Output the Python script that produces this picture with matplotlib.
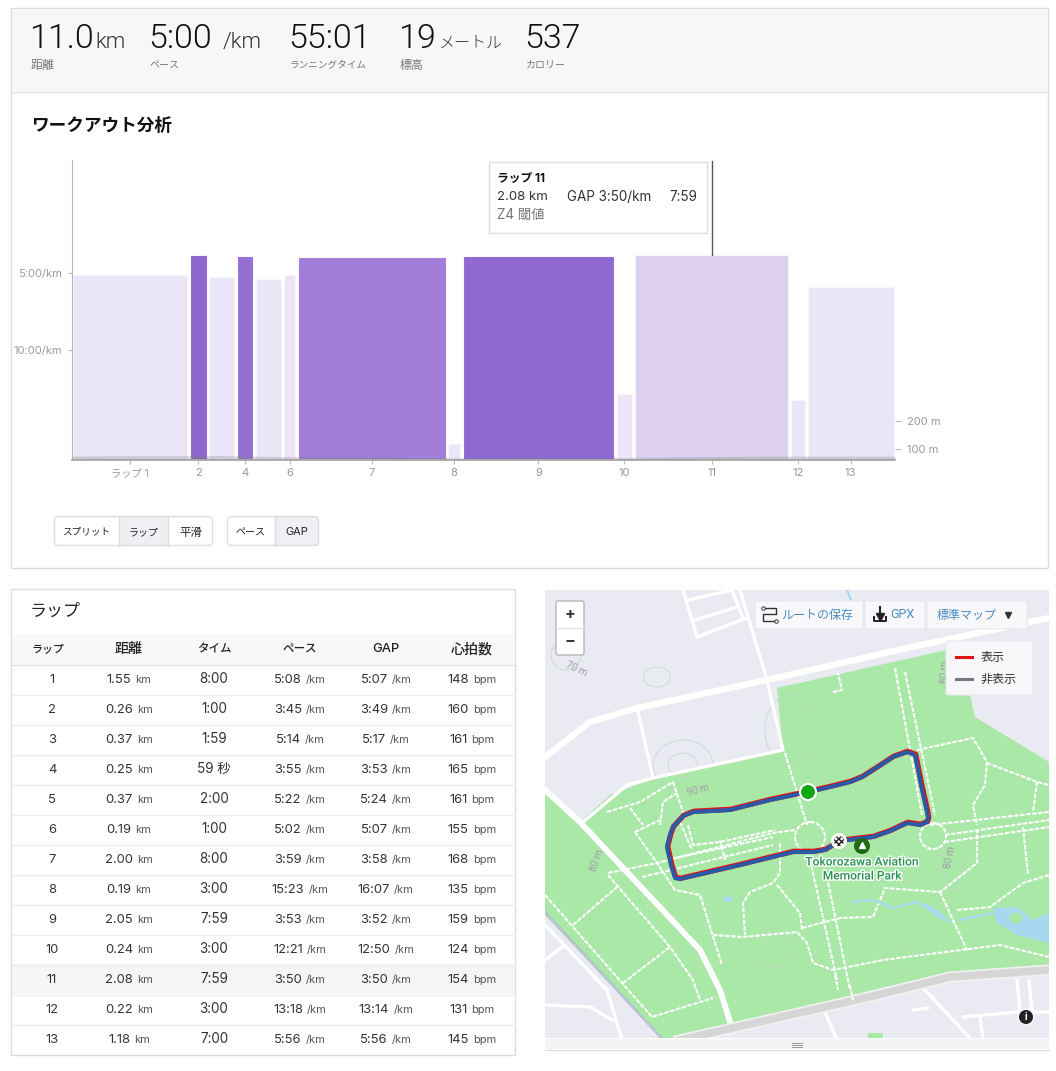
import matplotlib
matplotlib.use('Agg')
import matplotlib.pyplot as plt
from matplotlib.patches import Rectangle, FancyBboxPatch, Circle, Ellipse, Polygon
import matplotlib.patheffects as pe

W, H = 1056, 1071
LATIN = ['Inter', 'Noto Sans CJK JP', 'DejaVu Sans']
LIGHT = ['Roboto', 'Noto Sans CJK JP', 'DejaVu Sans']
CJK = ['Noto Sans CJK JP', 'DejaVu Sans']

# ---------- data ----------
laps = ['1', '2', '3', '4', '5', '6', '7', '8', '9', '10', '11', '12', '13']
dist = ['1.55', '0.26', '0.37', '0.25', '0.37', '0.19', '2.00', '0.19', '2.05', '0.24', '2.08', '0.22', '1.18']
times = ['8:00', '1:00', '1:59', '59 秒', '2:00', '1:00', '8:00', '3:00', '7:59', '3:00', '7:59', '3:00', '7:00']
pace = ['5:08', '3:45', '5:14', '3:55', '5:22', '5:02', '3:59', '15:23', '3:53', '12:21', '3:50', '13:18', '5:56']
gap = ['5:07', '3:49', '5:17', '3:53', '5:24', '5:07', '3:58', '16:07', '3:52', '12:50', '3:50', '13:14', '5:56']
hr = ['148', '160', '161', '165', '161', '155', '168', '135', '159', '124', '154', '131', '145']
bar_colors = ['#ebe5f8', '#8e66cc', '#ebe5f8', '#9470d2', '#ebe5f8', '#ebe5f8', '#a17cd9',
              '#ebe5f8', '#8f69d0', '#ebe5f8', '#dcd0ee', '#ebe5f8', '#ebe5f8']
x_labels = ['ラップ 1', '2', '', '4', '', '6', '7', '8', '9', '10', '11', '12', '13']
elev_km = [0, 1.0, 2.0, 2.6, 3.0, 4.0, 4.6, 5.2, 6.0, 7.0, 8.0, 9.0, 9.6, 10.95]
elev_m = [75, 76, 77, 74, 72, 74, 68, 68, 70, 68, 72, 74, 75, 75]

stat_values = ['11.0', '5:00', '55:01', '19', '537']
stat_units = ['km', '/km', '', 'メートル', '']
stat_labels = ['距離', 'ペース', 'ランニングタイム', '標高', 'カロリー']
columns = ['ラップ', '距離', 'タイム', 'ペース', 'GAP', '心拍数']

stat_x = [29, 148, 288, 398, 524]
stat_unit_x = [95, 223, 0, 438, 0]
stat_label_px = [12, 10, 9.6, 12, 10]
column_x = [48, 129, 214, 300, 386, 472]
column_px = [11, 14, 11.5, 11.5, 13, 14]

# map geometry (pixel positions of the screenshot)
park_n = [(777, 688), (893, 662), (947, 650), (970, 695), (975, 717), (1049, 762), (1049, 966), (950, 972),
          (873, 990), (731, 1025), (720, 990), (700, 950), (580, 822), (610, 795), (650, 780), (783, 750)]
park_w = [(545, 790), (580, 822), (700, 950), (720, 990), (731, 1025), (663, 1040), (545, 915)]
main_road = [(545, 757), (590, 722), (637, 708), (767, 680), (907, 648), (1049, 618)]
diag_road = [(545, 790), (580, 822), (700, 950), (720, 990), (731, 1025)]
bottom_road = [(680, 1040), (873, 996), (950, 977), (1049, 970)]
rail = [(545, 912), (663, 1040)]
side_roads = [[(740, 590), (767, 680), (783, 750), (653, 778), (627, 785), (583, 822)],
              [(638, 712), (653, 778)],
              [(683, 590), (697, 637), (747, 618)], [(695, 620), (737, 607)], [(688, 600), (732, 590)],
              [(732, 590), (743, 618)],
              [(923, 988), (970, 1038)], [(913, 1010), (928, 1008)], [(963, 1017), (1017, 1012), (1049, 1012)],
              [(980, 1017), (983, 1038)], [(1017, 980), (1020, 1012)], [(1029, 980), (1032, 1012)],
              [(825, 1012), (837, 1040)], [(545, 925), (607, 990), (622, 1040)],
              [(545, 1005), (590, 1007), (612, 1020)], [(545, 960), (565, 945)]]
footpaths = [[(895, 668), (922, 815)], [(905, 672), (935, 815)], [(833, 692), (842, 690), (838, 673)],
             [(785, 753), (807, 825)], [(917, 750), (973, 738), (987, 762), (985, 785), (973, 805), (977, 825)],
             [(987, 763), (1037, 782), (1049, 785)], [(1037, 782), (1033, 812)], [(930, 825), (1049, 812)],
             [(607, 812), (640, 802), (673, 782)], [(673, 782), (685, 818)], [(660, 825), (663, 802), (677, 793)],
             [(630, 808), (643, 825)], [(635, 832), (660, 820)],
             [(635, 832), (657, 863), (675, 890), (700, 895), (722, 965)],
             [(608, 873), (657, 863), (773, 833), (795, 830)], [(642, 877), (773, 845)], [(675, 858), (773, 837)],
             [(608, 875), (670, 947), (693, 980), (700, 1000)], [(545, 895), (652, 1017), (713, 998)],
             [(573, 925), (617, 887)], [(623, 983), (670, 947)],
             [(780, 843), (780, 873), (773, 883), (750, 892), (743, 903), (745, 935)],
             [(777, 885), (800, 913), (802, 930)],
             [(713, 935), (743, 937), (797, 932), (807, 943), (813, 963), (833, 970), (883, 960), (1000, 945), (1049, 957)],
             [(802, 928), (840, 918), (873, 917), (885, 888), (940, 892), (977, 863), (977, 830)],
             [(940, 892), (967, 950)], [(957, 910), (990, 907), (1023, 883), (1049, 875)],
             [(810, 860), (837, 980)], [(827, 877), (850, 990)], [(945, 835), (1049, 820)], [(945, 842), (1049, 827)],
             [(1023, 827), (1028, 875)], [(835, 975), (838, 990)], [(850, 985), (853, 1000)],
             [(688, 825), (693, 845), (720, 842), (775, 830)], [(680, 822), (692, 850)], [(720, 840), (725, 860)]]
path_circles = [(810, 837, 15), (933, 836, 13)]
streams = [[(853, 902), (873, 900), (893, 908), (917, 902), (950, 922)], [(960, 920), (993, 913)], [(847, 590), (851, 600)]]
lake = [(993, 908), (1017, 907), (1033, 920), (1049, 913), (1049, 943), (1017, 935), (997, 923)]
route = [(808, 792), (830, 787), (850, 782), (862, 777), (873, 770), (893, 757), (907, 752), (915, 755), (921, 785),
         (927, 812), (928, 818), (927, 822), (920, 825), (907, 823), (890, 831), (873, 837), (840, 841), (825, 850),
         (813, 852), (793, 852), (740, 865), (680, 879), (675, 878), (671, 865), (667, 847), (670, 835), (673, 827),
         (683, 816), (693, 812), (730, 810), (770, 800), (808, 792)]

# ---------- helpers ----------
def minutes(s):
    m, sec = s.split(':')
    return int(m) + int(sec) / 60

fig = plt.figure(figsize=(W / 100, H / 100), dpi=100, facecolor='white')

def px_axes(x0, y0, x1, y1, z):
    a = fig.add_axes([x0 / W, 1 - y1 / H, (x1 - x0) / W, (y1 - y0) / H], zorder=z)
    a.set_xlim(x0, x1)
    a.set_ylim(y1, y0)
    a.axis('off')
    return a

bg = px_axes(0, 0, W, H, 0)
top = px_axes(0, 0, W, H, 5)
top.patch.set_alpha(0)

def T(ax, x, y, s, px, color='#222222', ha='left', va='center', fam=LATIN, **kw):
    return ax.text(x, y, s, fontsize=px * 0.72, color=color, ha=ha, va=va, family=fam, **kw)

def rich(ax, cx, y, value, unit, vpx=13, upx=11, vc='#333333', uc='#555555'):
    a = T(ax, cx, y, value, vpx, vc, va='baseline')
    b = T(ax, cx, y, unit, upx, uc, va='baseline')
    r = fig.canvas.get_renderer()
    wa, wb = a.get_window_extent(r).width, b.get_window_extent(r).width
    left = cx - (wa + wb + 4) / 2
    a.set_x(left)
    b.set_x(left + wa + 4)

# ---------- cards ----------
bg.add_patch(Rectangle((11, 8), 1036.5, 560, fc='white', ec='#dddddd', lw=1))
bg.add_patch(Rectangle((12, 9), 1035, 82, fc='#f7f7fa', ec='none'))
bg.plot([12, 1047], [91.5, 91.5], color='#e0e0e0', lw=1)
for i, big in enumerate(stat_values):
    T(bg, stat_x[i], 48, big, 34, '#111111', va='baseline', fam=LIGHT, weight=300)
    if stat_units[i]:
        upx = 16 if stat_units[i] == 'メートル' else 22
        T(bg, stat_unit_x[i], 48, stat_units[i], upx, '#333333', va='baseline', fam=LIGHT, weight=300)
    T(bg, stat_x[i] + 2, 65, stat_labels[i], stat_label_px[i], '#777777', fam=CJK)
T(bg, 31, 126, 'ワークアウト分析', 17.6, '#111111', fam=CJK, weight='bold')

# ---------- chart ----------
XL, XR, YT, YB = 72, 895, 160, 460
ax = fig.add_axes([XL / W, 1 - YB / H, (XR - XL) / W, (YB - YT) / H], zorder=2)
ax.patch.set_alpha(0)
d = [float(v) for v in dist]
g = [minutes(v) for v in gap]
total = sum(d)
ax.set_xlim(0, total)
ax.set_ylim(17.14, -2.34)
start, centers = 0.0, []
for di, gi, c in zip(d, g, bar_colors):
    ax.bar(start + 0.018, 17.14 - gi, width=di - 0.036, bottom=gi, align='edge', color=c, edgecolor='#f8f5fc', lw=0.8)
    centers.append(start + di / 2)
    start += di
for s in ('top', 'right'):
    ax.spines[s].set_visible(False)
ax.spines['left'].set_color('#b5b5b5')
ax.spines['bottom'].set_color('#b5b5b5')
ax.spines['bottom'].set_linewidth(1.4)
ax.set_yticks([5, 10], ['5:00/km', '10:00/km'])
ax.set_xticks(centers, x_labels)
for i, lab in enumerate(x_labels):
    if not lab:
        ax.xaxis.get_major_ticks()[i].tick1line.set_visible(False)
ax.tick_params(axis='y', length=3, color='#bbbbbb', labelcolor='#999999', labelsize=8, pad=4)
ax.tick_params(axis='x', length=3, color='#bbbbbb', labelcolor='#999999', labelsize=8.2, pad=3)
for l in ax.get_xticklabels() + ax.get_yticklabels():
    l.set_family(LATIN)
ax.get_xticklabels()[0].set_fontsize(7.4)

ax2 = ax.twinx()
ax2.set_ylim(60.7, 1132)
ax2.fill_between(elev_km, 60.7, elev_m, color='#808080', alpha=0.28, lw=0)
for s in ('top', 'left', 'bottom', 'right'):
    ax2.spines[s].set_visible(False)
ax2.set_yticks([100, 200], ['100 m', '200 m'])
ax2.tick_params(axis='y', length=4.3, color='#bbbbbb', labelcolor='#999999', labelsize=8, pad=4)
for l in ax2.get_yticklabels():
    l.set_family(LATIN)

# tooltip and cursor
top.plot([712, 712], [161, 255], color='#555555', lw=1)
top.add_patch(Rectangle((488.5, 161.5), 218, 71, fc='white', ec='#dddddd', lw=1))
T(top, 497, 179, 'ラップ 11', 11.8, '#111111', weight='bold')
T(top, 497, 197, '2.08 km', 13.2, '#333333')
T(top, 567, 197, 'GAP 3:50/km', 13.5, '#333333')
T(top, 669, 197, '7:59', 13.5, '#333333')
T(top, 497, 215, 'Z4 閾値', 13.5, '#777777')

# segmented buttons
button_sets = [(54, 213, [(54, 119, 'スプリット', False, 9.6), (119, 168, 'ラップ', True, 10), (168, 213, '平滑', False, 11.5)]),
               (227, 319, [(227, 275, 'ペース', False, 10), (275, 319, 'GAP', True, 11)])]
for x0, x1, cells in button_sets:
    for xs, xe, lab, act, bpx in cells:
        if act:
            bg.add_patch(Rectangle((xs, 517), xe - xs, 29, fc='#f0f0f4', ec='none'))
        T(bg, (xs + xe) / 2, 532, lab, bpx, '#222222', ha='center', fam=CJK if lab != 'GAP' else LATIN)
        if xe != x1:
            bg.plot([xe, xe], [517, 546], color='#dddddd', lw=1)
    bg.add_patch(FancyBboxPatch((x0 + 0.5, 516.5), x1 - x0 - 1, 29,
                                boxstyle='round,pad=0,rounding_size=4', fc='none', ec='#dddddd', lw=1))

# ---------- table ----------
bg.add_patch(Rectangle((11, 589), 504, 466, fc='white', ec='#dddddd', lw=1))
T(bg, 30, 611, 'ラップ', 17, '#222222', fam=CJK)
bg.add_patch(Rectangle((12, 634), 503, 30, fc='#f8f8fa', ec='none'))
bg.plot([12, 515], [664.5, 664.5], color='#dddddd', lw=1)
for xc, c, cpx in zip(column_x, columns, column_px):
    T(bg, xc, 649, c, cpx, '#222222', ha='center', fam=CJK if c != 'GAP' else LATIN, weight=500)
for i, lap in enumerate(laps):
    yc = 679 + 30 * i
    if lap == '11':
        bg.add_patch(Rectangle((12, yc - 15), 502, 30, fc='#f5f5f5', ec='none'))
    if i < len(laps) - 1:
        bg.plot([12, 515], [yc + 15.5, yc + 15.5], color='#eeeeee', lw=1)
    base = yc + 4
    T(bg, 52, base, lap, 13, '#333333', ha='center', va='baseline')
    rich(bg, column_x[1], base, dist[i], 'km')
    T(bg, column_x[2], base, times[i], 13.5, '#333333', ha='center', va='baseline')
    rich(bg, column_x[3], base, pace[i], '/km')
    rich(bg, column_x[4], base, gap[i], '/km')
    rich(bg, column_x[5], base, hr[i], 'bpm')

# ---------- map ----------
m = px_axes(545, 590, 1049, 1038, 3)
m.add_patch(Rectangle((545, 590), 504, 448, fc='#eaeaf2', ec='none', zorder=0))
for poly in (park_n, park_w):
    m.add_patch(Polygon(poly, closed=True, fc='#a9e8a7', ec='none', zorder=1))
m.add_patch(Rectangle((868, 1033), 15, 7, fc='#a9e8a7', ec='none', zorder=1))
for (ex, ey, ew, eh) in [(657, 677, 27, 20), (683, 765, 30, 24), (683, 765, 60, 50), (790, 730, 50, 70),
                         (770, 950, 50, 35), (566, 655, 30, 30), (900, 960, 30, 25), (953, 860, 20, 60)]:
    m.add_patch(Ellipse((ex, ey), ew, eh, fc='none', ec='#c4d4c8', lw=0.5, zorder=2))
for r in side_roads:
    m.plot(*zip(*r), color='white', lw=2.4, zorder=3, solid_capstyle='round')
m.plot(*zip(*main_road), color='white', lw=4.6, zorder=3)
m.plot(*zip(*diag_road), color='white', lw=4.2, zorder=3)
m.plot(*zip(*bottom_road), color='#f2f2f2', lw=8, zorder=3)
m.plot(*zip(*bottom_road), color='#d6d6d6', lw=5.6, zorder=3)
m.plot(*zip(*rail), color='#9a9ad0', lw=1.4, zorder=3)
m.plot(*zip(*rail), color='#eaeaf2', lw=0.5, zorder=3)
for f in footpaths:
    m.plot(*zip(*f), color='white', lw=1.5, ls=(0, (2.2, 0.7)), zorder=4)
for cx, cy, rr in path_circles:
    m.add_patch(Circle((cx, cy), rr, fc='none', ec='white', lw=1.5, ls=(0, (2.2, 0.7)), zorder=4))
for s in streams:
    m.plot(*zip(*s), color='#a8d8f0', lw=1.6, zorder=4)
m.add_patch(Polygon(lake, closed=True, fc='#a8d8f0', ec='none', zorder=4))
m.add_patch(Ellipse((1016, 918), 14, 10, fc='#a9e8a7', ec='none', zorder=4))
m.add_patch(Ellipse((728, 899), 10, 5, fc='#a8d8f0', ec='none', zorder=4))
m.add_patch(Ellipse((935, 912), 30, 5, angle=35, fc='#a8d8f0', ec='none', zorder=4))

rx, ry = zip(*route)
m.plot([v + 0.7 for v in rx], [v - 0.7 for v in ry], color='#e01212', lw=3.8, zorder=6, solid_joinstyle='round')
m.plot(rx, ry, color='#2a5aa6', lw=2.9, zorder=7, solid_joinstyle='round')
m.add_patch(Circle((808, 792), 8, fc='#0aa80a', ec='white', lw=1.5, zorder=8))
m.add_patch(Circle((839, 841), 8, fc='white', ec='none', zorder=8))
m.add_patch(Circle((839, 841), 5, fc='white', ec='#222222', lw=0, hatch='xxxxxx', zorder=9))
m.add_patch(Circle((862, 846), 8, fc='#1f6a12', ec='none', zorder=8))
m.plot([862], [845], marker='^', ms=5, color='white', zorder=9)
halo = [pe.withStroke(linewidth=2, foreground='white')]
T(m, 862, 862, 'Tokorozawa Aviation', 12, '#2a9150', ha='center', fam=['Roboto'], weight='medium', path_effects=halo, zorder=9)
T(m, 862, 876, 'Memorial Park', 12, '#2a9150', ha='center', fam=['Roboto'], weight='medium', path_effects=halo, zorder=9)
for x, y, s, rot in [(576, 669, '70 m', -25), (698, 790, '90 m', 15), (945, 672, '80 m', 90),
                     (597, 860, '80 m', 70), (950, 857, '80 m', 80)]:
    T(m, x, y, s, 10, '#a0a0a8', ha='center', rotation=rot, zorder=4, fam=['Roboto'])

def card(x0, y0, x1, y1, fc='#f8f8fb', ec='#e8e8ee', r=2):
    m.add_patch(FancyBboxPatch((x0, y0), x1 - x0, y1 - y0, boxstyle=f'round,pad=0,rounding_size={r}',
                               fc=fc, ec=ec, lw=0.8, zorder=10))

card(556, 601, 584, 655, fc='white', ec='#aaaaaa', r=2)
m.plot([556, 584], [628, 628], color='#dddddd', lw=0.8, zorder=11)
T(m, 570, 615, '+', 16, '#333333', ha='center', weight='bold', zorder=11)
T(m, 570, 641, '−', 16, '#333333', ha='center', weight='bold', zorder=11)
card(755, 601, 863, 629)
card(865, 601, 925, 629)
card(927, 601, 1027, 629)
BLUE = '#4a8cc0'
T(m, 781, 615.5, 'ルートの保存', 12, BLUE, fam=CJK, zorder=11)
m.plot([763, 776, 776, 763, 763, 776], [608, 608, 614, 614, 621, 621], color='#333333', lw=1, zorder=11)
m.plot([763, 776], [608, 621], 'o', ms=2.5, mfc='white', mec='#333333', mew=0.7, zorder=12)
m.plot([880, 880], [607, 616], color='#222222', lw=1.5, zorder=11)
m.plot([880], [617], marker='v', ms=6, color='#222222', zorder=11)
m.plot([874, 874, 886, 886], [617, 621, 621, 617], color='#222222', lw=1.4, zorder=11)
T(m, 890, 615, 'GPX', 12.5, BLUE, zorder=11, fam=['Roboto'])
T(m, 937, 615.5, '標準マップ', 12, BLUE, fam=CJK, zorder=11)
m.plot([1008], [615], marker='v', ms=4.5, color='#333333', zorder=11)
card(946, 641, 1033, 695, fc='#f7f7fa')
m.plot([956, 972], [657, 657], color='#e01212', lw=2.2, zorder=11)
m.plot([956, 972], [679, 679], color='#777780', lw=2.2, zorder=11)
T(m, 981, 657, '表示', 12, '#333333', fam=CJK, zorder=11)
T(m, 981, 679, '非表示', 12, '#333333', fam=CJK, zorder=11)
m.add_patch(Circle((1026, 1017), 9, fc='#f4f4f8', ec='none', alpha=0.8, zorder=10))
m.add_patch(Circle((1026, 1017), 7, fc='#222222', ec='none', zorder=11))
T(m, 1026, 1017, 'i', 10, 'white', ha='center', weight='bold', zorder=12)

# map resize handle
bg.add_patch(Rectangle((545, 1039), 504, 10, fc='#f4f4f7', ec='none'))
bg.plot([545, 1049], [1049.5, 1049.5], color='#dddddf', lw=1)
for yy in (1042.5, 1044.5, 1046.5):
    bg.plot([792, 802], [yy, yy], color='#999999', lw=0.7)

fig.savefig('out.png', dpi=100, facecolor='white')
